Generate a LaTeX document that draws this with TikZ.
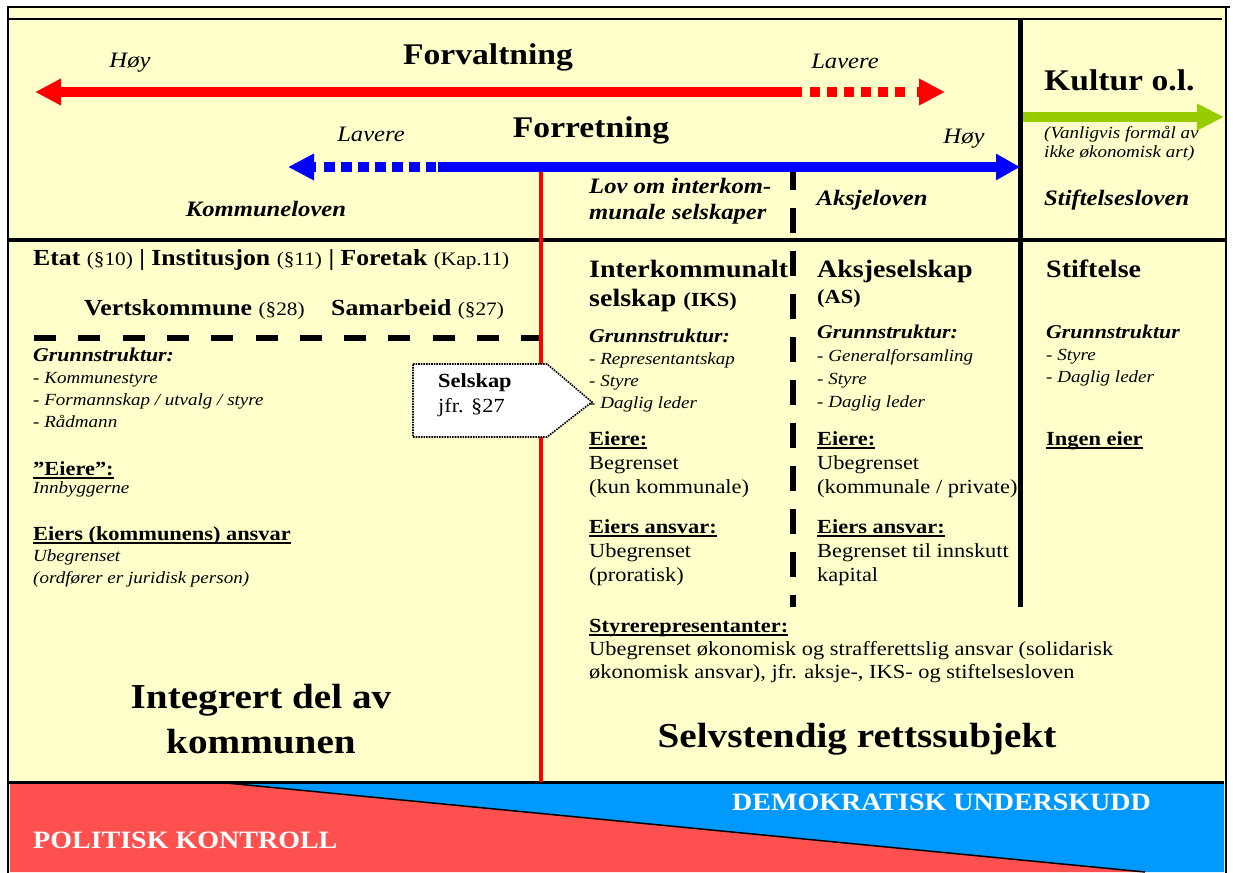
\documentclass[tikz,border=0pt]{standalone}
\usepackage{fontspec}
\setmainfont{Liberation Serif}[FakeStretch=1.12]
\usetikzlibrary{arrows.meta}

\definecolor{paleyellow}{HTML}{FFFFCC}
\definecolor{arrowred}{HTML}{FF0000}
\definecolor{arrowblue}{HTML}{0000FF}
\definecolor{kulturgreen}{HTML}{99CC00}
\definecolor{kontrollred}{HTML}{FF5050}
\definecolor{underskuddblue}{HTML}{0099FF}

\newcommand{\undl}[1]{\setbox0=\hbox{#1}\rlap{\rule[-3.5pt]{\wd0}{1.8pt}}\box0}
\newcommand{\sm}[1]{{\fontsize{19}{23}\selectfont\mdseries #1}}
\newcommand{\subhd}[1]{{\fontsize{19.5}{22}\selectfont\bfseries\itshape #1}}

\begin{document}
\begin{tikzpicture}[
    x=1pt, y=-1pt,
    lbl/.style={inner sep=0pt, anchor=base west},
    clbl/.style={inner sep=0pt, anchor=base},
    bigtitle/.style={clbl, font=\fontsize{30}{34}\selectfont\bfseries},
    levelword/.style={clbl, font=\fontsize{22}{26}\selectfont\itshape},
    lawname/.style={lbl, font=\fontsize{22}{26}\selectfont\bfseries\itshape},
    etatline/.style={lbl, font=\fontsize{23}{28}\selectfont\bfseries},
    colhead/.style={lbl, font=\fontsize{25}{29}\selectfont\bfseries},
    itemlist/.style={lbl, font=\fontsize{17}{22}\selectfont\itshape},
    bodytext/.style={lbl, font=\fontsize{20}{24}\selectfont},
    hugetext/.style={clbl, font=\fontsize{35}{45}\selectfont\bfseries},
    bandtext/.style={lbl, text=white, font=\fontsize{25}{29}\selectfont\bfseries},
    arrowline/.style={line width=10pt},
    headtip/.style={-{Triangle[length=#1, width=25pt]}}
  ]
  \useasboundingbox (0,0) rectangle (1233,872);

  % background and bottom band
  \fill[paleyellow] (8,7) rectangle (1226,872);
  \fill[kontrollred] (10,782) -- (216,782) -- (1145,872) -- (10,872) -- cycle;
  \fill[underskuddblue] (216,782) -- (1224,782) -- (1224,872) -- (1145,872) -- cycle;
  \draw[line width=1.5pt] (216,782) -- (1145,872);
  \draw[line width=3pt] (8,782) -- (1224,782);

  % frame
  \draw[line width=2.5pt] (8,880) -- (8,7) -- (1230,7);
  \draw[line width=2.5pt] (1226,7) -- (1226,880);
  \draw[line width=2.5pt] (8,19) -- (1222,19);

  % dividing lines
  \draw[line width=4pt] (8,240) -- (1226,240);
  \draw[line width=5pt] (1020,19) -- (1020,607);
  \draw[line width=6.5pt, dash pattern=on 25pt off 18pt] (793,165) -- (793,607);
  \draw[line width=6pt, dash pattern=on 22pt off 22.3pt] (34,338) -- (539,338);
  \draw[arrowred, line width=4.5pt] (541,172) -- (541,782);

  % Selskap box
  \draw[densely dotted, line width=1.6pt, fill=white]
    (413,364) -- (547,364) -- (592,402) -- (547,437) -- (413,437) -- cycle;

  % arrows
  \coordinate (fvTipL) at (35,92);
  \coordinate (fvSolid) at (802,92);
  \coordinate (fvDotA) at (810,92);
  \coordinate (fvDotB) at (905,92);
  \coordinate (fvHead) at (917,92);
  \coordinate (fvTipR) at (945,92);
  \draw[arrowline, arrowred, headtip=26pt] (fvSolid) -- (fvTipL);
  \draw[arrowline, arrowred, dash pattern=on 10pt off 7pt] (fvDotA) -- (fvDotB);
  \draw[arrowline, arrowred, headtip=26pt] (fvHead) -- (fvTipR);

  \coordinate (frTipL) at (288,167);
  \coordinate (frHead) at (316,167);
  \coordinate (frDotA) at (324,167);
  \coordinate (frDotB) at (436,167);
  \coordinate (frSolid) at (438,167);
  \coordinate (frTipR) at (1020,167);
  \draw[arrowline, arrowblue, headtip=26pt] (frHead) -- (frTipL);
  \draw[arrowline, arrowblue, dash pattern=on 10.5pt off 6.5pt] (frDotA) -- (frDotB);
  \draw[arrowline, arrowblue, headtip=24pt] (frSolid) -- (frTipR);

  \coordinate (kuStart) at (1023,117);
  \coordinate (kuTip) at (1224,117);
  \draw[arrowline, kulturgreen, headtip=27pt] (kuStart) -- (kuTip);

  % top labels
  \node[levelword] (hoyForv) at (130,68) {Høy};
  \node[bigtitle] (forvaltning) at (488,65) {Forvaltning};
  \node[levelword] (lavereForv) at (845,69) {Lavere};
  \node[levelword] (lavereForr) at (371,142) {Lavere};
  \node[bigtitle] (forretning) at (591,138) {Forretning};
  \node[levelword] (hoyForr) at (964,143) {Høy};
  \node[lawname, anchor=base] (kommuneloven) at (266,216) {Kommuneloven};
  \node[lawname] (ikslov) at (589,193)
 {%
 \begin{tabular}[t]{@{}l@{}}
  Lov om interkom-\\
  munale selskaper
 \end{tabular}
 };
  \node[lawname, anchor=base] (aksjeloven) at (872,205) {Aksjeloven};
  \node[lawname] (stiftelsesloven) at (1044,205) {Stiftelsesloven};
  \node[lbl, font=\fontsize{30}{34}\selectfont\bfseries] (kultur) at (1044,91) {Kultur o.l.};
  \node[lbl, font=\fontsize{17}{19}\selectfont\itshape] (formaal) at (1044,139)
 {%
 \begin{tabular}[t]{@{}l@{}}
  (Vanligvis formål av\\
  ikke økonomisk art)
 \end{tabular}
 };

  % municipal column
  \node[etatline] (etat) at (33,265)
    {Etat \sm{(§10)} | Institusjon \sm{(§11)} | Foretak \sm{(Kap.11)}};
  \node[etatline] (vertskommune) at (84,315) {Vertskommune \sm{(§28)}};
  \node[etatline] (samarbeid) at (331,315) {Samarbeid \sm{(§27)}};
  \node[itemlist] (grunnKommune) at (33,361)
 {%
 \begin{tabular}[t]{@{}l@{}}
  \subhd{Grunnstruktur:}\\
  - Kommunestyre\\
  - Formannskap / utvalg / styre\\
  - Rådmann
 \end{tabular}
 };
  \node[itemlist, font=\fontsize{17}{18}\selectfont\itshape] (eiereKommune) at (33,475)
 {%
 \begin{tabular}[t]{@{}l@{}}
  {\fontsize{20}{24}\selectfont\upshape\bfseries\undl{”Eiere”:}}\\
  Innbyggerne
 \end{tabular}
 };
  \node[itemlist, font=\fontsize{17}{21.5}\selectfont\itshape] (ansvarKommune) at (33,540)
 {%
 \begin{tabular}[t]{@{}l@{}}
  {\fontsize{20}{24}\selectfont\upshape\bfseries\undl{Eiers (kommunens) ansvar}}\\
  Ubegrenset\\
  (ordfører er juridisk person)
 \end{tabular}
 };
  \node[bodytext, font=\fontsize{20}{25}\selectfont] (selskap) at (438,387)
 {%
 \begin{tabular}[t]{@{}l@{}}
  \textbf{Selskap}\\
  jfr. §27
 \end{tabular}
 };

  % IKS column
  \node[colhead] (iksHead) at (589,277)
 {%
 \begin{tabular}[t]{@{}l@{}}
  Interkommunalt\\
  selskap {\fontsize{20}{24}\selectfont(IKS)}
 \end{tabular}
 };
  \node[itemlist] (iksGrunn) at (589,342)
 {%
 \begin{tabular}[t]{@{}l@{}}
  \subhd{Grunnstruktur:}\\
  - Representantskap\\
  - Styre\\
  - Daglig leder
 \end{tabular}
 };
  \node[bodytext] (iksEiere) at (589,445)
 {%
 \begin{tabular}[t]{@{}l@{}}
  \textbf{\undl{Eiere:}}\\
  Begrenset\\
  (kun kommunale)
 \end{tabular}
 };
  \node[bodytext] (iksAnsvar) at (589,533)
 {%
 \begin{tabular}[t]{@{}l@{}}
  \textbf{\undl{Eiers ansvar:}}\\
  Ubegrenset\\
  (proratisk)
 \end{tabular}
 };

  % AS column
  \node[colhead, font=\fontsize{25}{26}\selectfont\bfseries] (asHead) at (817,277)
 {%
 \begin{tabular}[t]{@{}l@{}}
  Aksjeselskap\\
  {\fontsize{20}{24}\selectfont(AS)}
 \end{tabular}
 };
  \node[itemlist, font=\fontsize{17}{23}\selectfont\itshape] (asGrunn) at (817,338)
 {%
 \begin{tabular}[t]{@{}l@{}}
  \subhd{Grunnstruktur:}\\
  - Generalforsamling\\
  - Styre\\
  - Daglig leder
 \end{tabular}
 };
  \node[bodytext] (asEiere) at (817,445)
 {%
 \begin{tabular}[t]{@{}l@{}}
  \textbf{\undl{Eiere:}}\\
  Ubegrenset\\
  (kommunale / private)
 \end{tabular}
 };
  \node[bodytext] (asAnsvar) at (817,533)
 {%
 \begin{tabular}[t]{@{}l@{}}
  \textbf{\undl{Eiers ansvar:}}\\
  Begrenset til innskutt\\
  kapital
 \end{tabular}
 };

  % Stiftelse column
  \node[colhead] (stHead) at (1046,277) {Stiftelse};
  \node[itemlist] (stGrunn) at (1046,338)
 {%
 \begin{tabular}[t]{@{}l@{}}
  \subhd{Grunnstruktur}\\
  - Styre\\
  - Daglig leder
 \end{tabular}
 };
  \node[bodytext] (stEier) at (1046,445) {\textbf{\undl{Ingen eier}}};

  % lower part
  \node[bodytext, font=\fontsize{20}{23}\selectfont] (styre) at (589,632)
 {%
 \begin{tabular}[t]{@{}l@{}}
  \textbf{\undl{Styrerepresentanter:}}\\
  Ubegrenset økonomisk og strafferettslig ansvar (solidarisk\\
  økonomisk ansvar), jfr. aksje-, IKS- og stiftelsesloven
 \end{tabular}
 };
  \node[hugetext] (integrert) at (261,708)
 {%
 \begin{tabular}[t]{@{}c@{}}
  Integrert del av\\
  kommunen
 \end{tabular}
 };
  \node[hugetext] (selvstendig) at (857,747) {Selvstendig rettssubjekt};
  \node[bandtext] (underskudd) at (732,810) {DEMOKRATISK UNDERSKUDD};
  \node[bandtext] (kontroll) at (33,848) {POLITISK KONTROLL};

\end{tikzpicture}
\end{document}
